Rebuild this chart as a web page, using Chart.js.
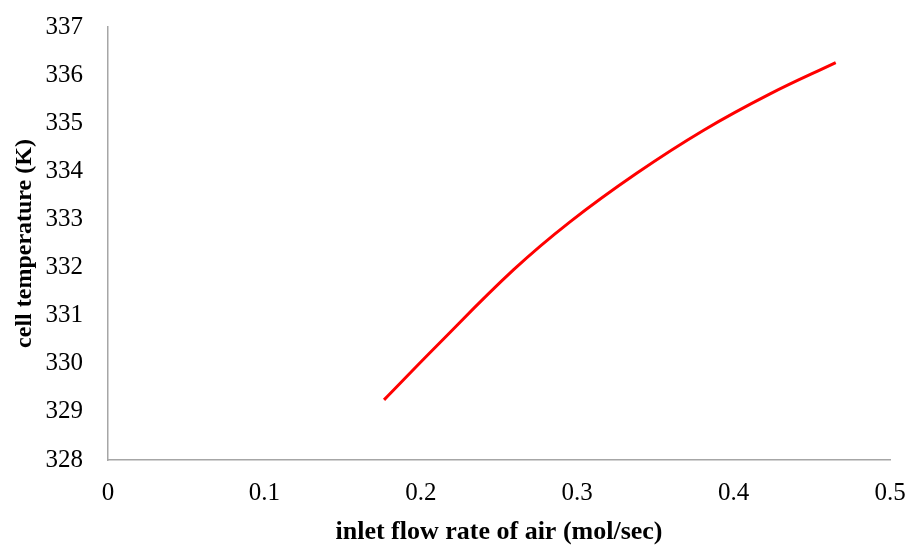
<!DOCTYPE html>
<html>
<head>
<meta charset="utf-8">
<script src="https://cdn.jsdelivr.net/npm/chart.js@4"></script>
<style>
  html, body { margin: 0; padding: 0; background: #fff; }
  #wrap { width: 910px; height: 545px; }
</style>
</head>
<body>
<div id="wrap"><canvas id="chart" width="910" height="545"></canvas></div>
<script>
const flowRate = [0.1765, 0.2101, 0.2592, 0.2954, 0.338, 0.3806, 0.4233, 0.4653];
const cellTemp = [329.25, 330.37, 331.95, 332.95, 333.96, 334.85, 335.61, 336.26];
const xTicks = [0, 0.1, 0.2, 0.3, 0.4, 0.5];
const yTicks = [328, 329, 330, 331, 332, 333, 334, 335, 336, 337];

const serif = '"Liberation Serif", "Times New Roman", serif';

document.addEventListener('DOMContentLoaded', () => {
    const ctx = document.getElementById('chart').getContext('2d');
    new Chart(ctx, {
        type: 'scatter',
        data: {
            datasets: [{
                data: flowRate.map((x, i) => ({ x: x, y: cellTemp[i] })),
                showLine: true,
                borderColor: '#ff0000',
                borderWidth: 3,
                pointRadius: 0,
                tension: 0.4,
                fill: false
            }]
        },
        options: {
            responsive: false,
            animation: false,
            layout: { padding: { top: 27, right: 20, left: 0, bottom: 0 } },
            plugins: { legend: { display: false }, tooltip: { enabled: false } },
            scales: {
                x: {
                    type: 'linear',
                    min: 0,
                    max: 0.5,
                    afterBuildTicks: (scale) => { scale.ticks = xTicks.map(v => ({ value: v })); },
                    afterFit: (scale) => { scale.height = 85; scale.paddingRight = 0; scale.paddingLeft = 0; },
                    grid: { display: false },
                    border: { display: true, color: '#a6a6a6', width: 1.5 },
                    ticks: {
                        color: '#000',
                        padding: 10,
                        maxRotation: 0,
                        font: { family: serif, size: 25 },
                        callback: (v) => String(v)
                    },
                    title: {
                        display: true,
                        text: 'inlet flow rate of air (mol/sec)',
                        color: '#000',
                        padding: { top: 4, bottom: -3 },
                        font: { family: serif, size: 26, weight: 'bold' }
                    }
                },
                y: {
                    type: 'linear',
                    min: 328,
                    max: 337,
                    afterBuildTicks: (scale) => { scale.ticks = yTicks.map(v => ({ value: v })); },
                    afterFit: (scale) => { scale.width = 108; scale.paddingTop = 0; scale.paddingBottom = 0; },
                    grid: { display: false },
                    border: { display: true, color: '#a6a6a6', width: 1.5 },
                    ticks: {
                        color: '#000',
                        padding: 17,
                        font: { family: serif, size: 25 }
                    },
                    title: {
                        display: true,
                        text: 'cell temperature (K)',
                        color: '#000',
                        padding: { top: 10, bottom: 4 },
                        font: { family: serif, size: 24, weight: 'bold' }
                    }
                }
            }
        }
    });
});
</script>
</body>
</html>
